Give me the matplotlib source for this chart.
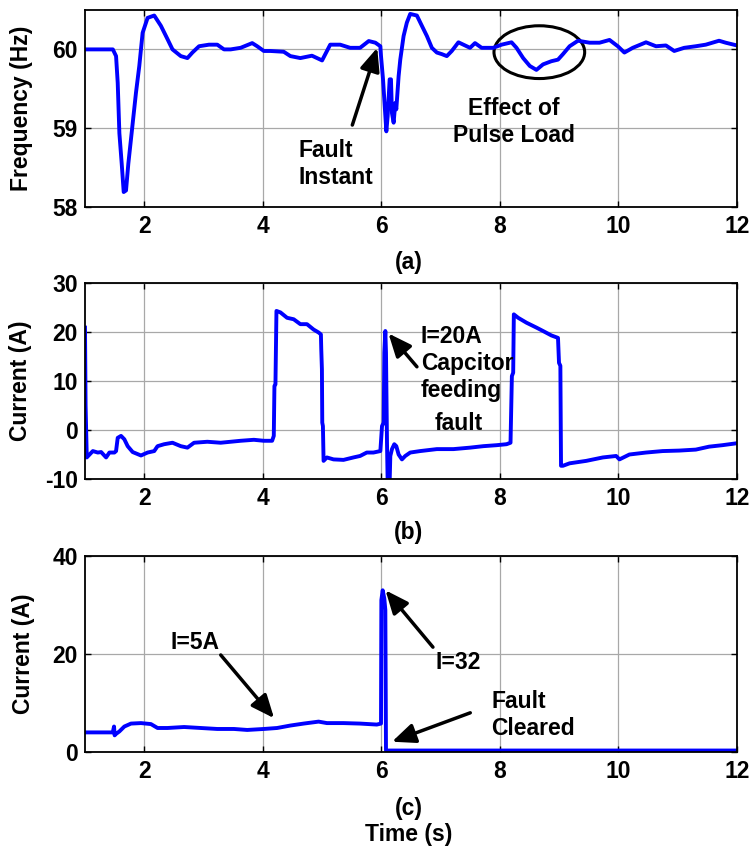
import matplotlib
matplotlib.use("Agg")
import matplotlib.pyplot as plt
from matplotlib.patches import Ellipse

plt.rcParams['font.family'] = ['Liberation Sans', 'DejaVu Sans']
plt.rcParams['font.weight'] = 'bold'
plt.rcParams['font.size'] = 16.5
plt.rcParams['axes.unicode_minus'] = False

FS = 16.5
LS = 1.22

# ---------------- data ----------------
freq_t = [1.0, 1.47, 1.524, 1.552, 1.58, 1.619, 1.653, 1.692, 1.731, 1.787, 1.86, 1.916, 1.972,
          2.056, 2.168, 2.28, 2.392, 2.476, 2.616, 2.728, 2.812, 2.924, 3.092, 3.232, 3.345,
          3.457, 3.625, 3.821, 3.905, 4.017, 4.129, 4.353, 4.465, 4.633, 4.829, 5.0, 5.137,
          5.305, 5.473, 5.641, 5.787, 5.899, 5.983, 5.994, 6.028, 6.05, 6.084, 6.106, 6.14,
          6.162, 6.179, 6.207, 6.235, 6.252, 6.291, 6.319, 6.347, 6.375, 6.43, 6.487, 6.599,
          6.683, 6.768, 6.852, 6.936, 7.02, 7.104, 7.188, 7.3, 7.412, 7.496, 7.58, 7.692,
          7.888, 8.028, 8.196, 8.28, 8.392, 8.504, 8.616, 8.728, 8.868, 8.98, 9.064, 9.176,
          9.317, 9.513, 9.681, 9.849, 9.989, 10.1, 10.241, 10.465, 10.633, 10.801, 10.941,
          11.109, 11.305, 11.473, 11.697, 11.809, 12.0]
freq_v = [60.0, 60.0, 59.915, 59.574, 58.936, 58.553, 58.19, 58.21, 58.55, 58.94, 59.45, 59.79, 60.21,
          60.40, 60.43, 60.30, 60.13, 60.0, 59.915, 59.89, 59.96, 60.04, 60.06, 60.06, 60.0,
          60.0, 60.02, 60.08, 60.04, 59.98, 59.98, 59.97, 59.915, 59.89, 59.92, 59.86, 60.06,
          60.06, 60.02, 60.02, 60.106, 60.085, 60.04, 59.915, 59.62, 59.36, 58.96, 59.15, 59.62,
          59.62, 59.19, 59.07, 59.32, 59.24, 59.66, 59.87, 60.02, 60.17, 60.34, 60.45, 60.43,
          60.30, 60.17, 60.02, 59.96, 59.94, 59.915, 59.98, 60.09, 60.05, 60.02, 60.08, 60.02,
          60.02, 60.06, 60.09, 60.02, 59.89, 59.79, 59.74, 59.81, 59.85, 59.87, 59.94, 60.04,
          60.11, 60.085, 60.085, 60.12, 60.04, 59.96, 60.02, 60.09, 60.04, 60.05, 59.98,
          60.02, 60.04, 60.06, 60.11, 60.085, 60.05]

cur_b_t = [1.0, 1.01, 1.03, 1.132, 1.216, 1.272, 1.356, 1.412, 1.496, 1.524, 1.552, 1.608, 1.664,
           1.72, 1.804, 1.944, 2.056, 2.168, 2.224, 2.336, 2.476, 2.616, 2.728, 2.84, 3.064,
           3.289, 3.457, 3.625, 3.849, 4.017, 4.157, 4.185, 4.196, 4.213, 4.23, 4.297, 4.409,
           4.521, 4.633, 4.745, 4.857, 4.941, 4.98, 4.986, 4.997, 5.003, 5.014, 5.025, 5.081,
           5.193, 5.361, 5.529, 5.641, 5.754, 5.866, 5.983, 6.011, 6.039, 6.05, 6.067, 6.078,
           6.095, 6.106, 6.14, 6.151, 6.179, 6.218, 6.252, 6.291, 6.347, 6.403, 6.487, 6.655,
           6.936, 7.216, 7.496, 7.72, 7.944, 8.112, 8.179, 8.202, 8.224, 8.235, 8.308, 8.448,
           8.616, 8.728, 8.868, 8.98, 8.997, 9.02, 9.031, 9.064, 9.176, 9.457, 9.737, 9.961,
           10.017, 10.185, 10.465, 10.745, 11.025, 11.305, 11.529, 11.753, 12.0]
cur_b_v = [20.9, 5.0, -5.6, -4.3, -4.6, -4.5, -5.6, -4.6, -4.6, -4.3, -1.6, -1.2, -1.9,
           -3.3, -4.5, -5.2, -4.6, -4.3, -3.3, -2.9, -2.6, -3.3, -3.6, -2.6, -2.4,
           -2.6, -2.4, -2.2, -2.0, -2.2, -2.2, -1.2, 9.0, 9.3, 24.3, 24.0, 22.9,
           22.6, 21.6, 21.6, 20.5, 19.9, 19.5, 16.5, 12.4, 1.5, 0.8, -6.3, -5.6,
           -6.0, -6.1, -5.6, -5.3, -4.6, -4.6, -4.3, 0.8, 1.5, 15.8, 20.2, 15.8,
           -2.6, -10.5, -10.5, -5.3, -3.9, -2.9, -3.3, -5.0, -6.0, -5.3, -4.6, -4.3,
           -3.9, -3.9, -3.6, -3.3, -3.1, -2.9, -2.6, 11.0, 11.7, 23.6, 22.9, 21.9,
           20.9, 20.2, 19.3, 18.8, 13.7, 13.1, -7.3, -7.3, -6.8, -6.3, -5.6, -5.3,
           -6.0, -5.0, -4.6, -4.3, -4.2, -4.0, -3.4, -3.1, -2.7]

cur_c_t = [1.0, 1.468, 1.49, 1.5, 1.524, 1.58, 1.664, 1.776, 1.944, 2.112, 2.224, 2.392, 2.672,
           2.952, 3.232, 3.513, 3.737, 4.017, 4.241, 4.465, 4.689, 4.941, 5.081, 5.361, 5.641,
           5.922, 5.994, 6.0, 6.022, 6.05, 6.067, 6.078, 12.0]
cur_c_v = [4.0, 4.0, 5.2, 3.4, 3.7, 4.2, 5.2, 5.8, 5.9, 5.7, 4.9, 4.9, 5.1,
           4.9, 4.7, 4.7, 4.5, 4.7, 4.9, 5.4, 5.8, 6.2, 5.9, 5.9, 5.8,
           5.6, 5.8, 31.0, 33.0, 31.3, 29.0, 0.3, 0.3]

x_ticks = [2, 4, 6, 8, 10, 12]
freq_ticks = [58, 59, 60]
cur_b_ticks = [-10, 0, 10, 20, 30]
cur_c_ticks = [0, 20, 40]

panel_labels = ['(a)', '(b)', '(c)']

# ---------------- figure ----------------
W, H = 755, 849
fig = plt.figure(figsize=(W / 100, H / 100), dpi=100)


def make_axes(top_px, bottom_px):
    left_px, right_px = 85, 737
    return fig.add_axes([left_px / W, 1 - bottom_px / H,
                         (right_px - left_px) / W, (bottom_px - top_px) / H])


axa = make_axes(10, 207)
axb = make_axes(283, 479)
axc = make_axes(556, 752)

blue = '#0000ff'
lw = 2.8

axa.plot(freq_t, freq_v, color=blue, lw=lw)
axb.plot(cur_b_t, cur_b_v, color=blue, lw=lw)
axc.plot(cur_c_t, cur_c_v, color=blue, lw=lw)

for ax, yl, yt, ylab, lx in [(axa, (58, 60.5), freq_ticks, 'Frequency (Hz)', -0.08),
                             (axb, (-10, 30), cur_b_ticks, 'Current (A)', -0.082),
                             (axc, (0, 40), cur_c_ticks, 'Current (A)', -0.077)]:
    ax.set_xlim(1, 12)
    ax.set_ylim(*yl)
    ax.set_xticks(x_ticks)
    ax.set_yticks(yt)
    ax.grid(True, color='#a8a8a8', lw=0.9, ls='-')
    ax.set_axisbelow(True)
    ax.tick_params(direction='in', top=True, right=True, length=4, width=1,
                   labelsize=FS)
    ax.tick_params(axis='x', pad=6)
    ax.tick_params(axis='y', pad=5)
    for sp in ax.spines.values():
        sp.set_linewidth(1.3)
    ax.set_ylabel(ylab, fontsize=FS, fontweight='bold')
    ax.yaxis.set_label_coords(lx, 0.5)
    for lab in ax.get_xticklabels() + ax.get_yticklabels():
        lab.set_fontweight('bold')

# captions
fig.text(408.5 / W, 1 - 262 / H, panel_labels[0], ha='center', va='center', fontsize=FS, fontweight='bold')
fig.text(408.5 / W, 1 - 533 / H, panel_labels[1], ha='center', va='center', fontsize=FS, fontweight='bold')
fig.text(408.5 / W, 1 - 809 / H, panel_labels[2], ha='center', va='center', fontsize=FS, fontweight='bold')
fig.text(408.5 / W, 1 - 834 / H, 'Time (s)', ha='center', va='center', fontsize=FS, fontweight='bold')

arrow_props = dict(arrowstyle='-|>,head_length=0.7,head_width=0.3', lw=2.5, color='k',
                   mutation_scale=20, shrinkA=0, shrinkB=0)

# panel (a) annotations
axa.annotate('', xy=(5.93, 60.02), xytext=(5.51, 59.04), arrowprops=arrow_props)
axa.text(4.605, 58.55, 'Fault\nInstant', ha='left', va='center', fontsize=FS, fontweight='bold',
         linespacing=LS)
axa.add_patch(Ellipse((8.665, 59.965), 1.53, 0.67, fill=False, lw=2.2, ec='k'))
axa.text(8.235, 59.08, 'Effect of\nPulse Load', ha='center', va='center', fontsize=FS,
         fontweight='bold', multialignment='center', linespacing=LS)

# panel (b) annotations
axb.annotate('', xy=(6.12, 19.7), xytext=(6.6, 12.9), arrowprops=arrow_props)
axb.text(6.667, 13.5, 'I=20A\nCapcitor\nfeeding', ha='left', va='center', fontsize=FS,
         fontweight='bold', linespacing=LS)
axb.text(7.30, 1.4, 'fault', ha='center', va='center', fontsize=FS, fontweight='bold')

# panel (c) annotations
axc.annotate('', xy=(4.19, 6.9), xytext=(3.29, 19.8), arrowprops=arrow_props)
axc.text(2.45, 22.3, 'I=5A', ha='left', va='center', fontsize=FS, fontweight='bold')
axc.annotate('', xy=(6.07, 33.0), xytext=(6.87, 21.4), arrowprops=arrow_props)
axc.text(6.91, 18.2, 'I=32', ha='left', va='center', fontsize=FS, fontweight='bold')
axc.annotate('', xy=(6.18, 2.1), xytext=(7.5, 8.0), arrowprops=arrow_props)
axc.text(7.86, 7.6, 'Fault\nCleared', ha='left', va='center', fontsize=FS, fontweight='bold',
         linespacing=LS)

fig.savefig('out.png', dpi=100)
